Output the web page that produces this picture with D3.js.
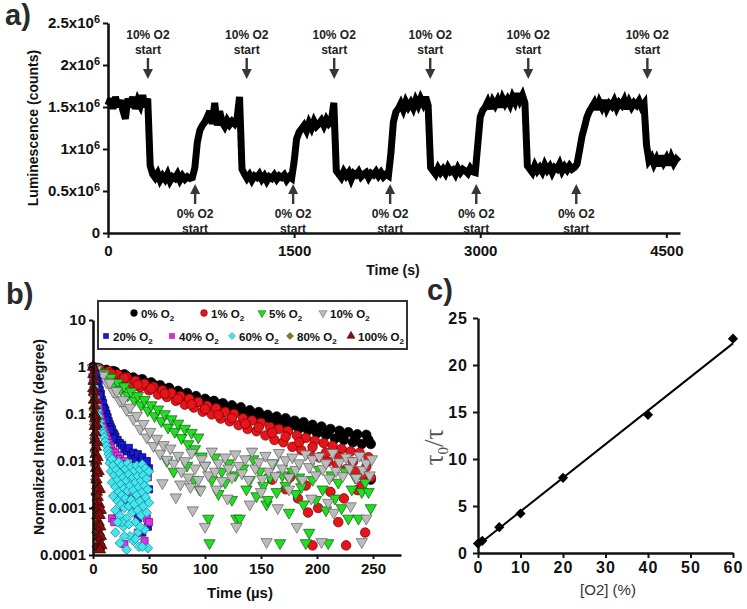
<!DOCTYPE html>
<html><head><meta charset="utf-8">
<script src="https://cdn.jsdelivr.net/npm/d3@7"></script>
<style>
body{margin:0;background:#fff;}
svg{display:block;font-family:"Liberation Sans",Arial,sans-serif;}
</style></head><body>
<svg id="chart" width="747" height="609"></svg>
<script>
// ---------------- Panel a data ----------------
const lumStep = 20; // seconds between samples
const lumValues = [ // luminescence, x10^6 counts
1.52,1.60,1.48,1.62,1.50,1.58,1.46,1.36,1.60,1.50,1.62,1.48,1.58,1.52,1.64,1.50,1.60,
0.80,
0.70,0.66,0.71,0.63,0.68,0.64,0.70,0.62,0.67,0.65,0.70,0.63,0.68,0.64,0.67,0.65,0.66,
0.78,1.08,1.22,1.28,
1.32,1.38,1.45,1.30,1.55,1.28,1.45,1.32,1.27,1.34,1.29,1.33,1.30,1.36,1.62,
0.76,
0.70,0.65,0.69,0.63,0.68,0.66,0.70,0.64,0.68,0.62,0.67,0.65,0.69,0.64,0.68,0.66,0.69,0.63,0.67,0.65,
0.85,1.12,1.20,1.24,
1.28,1.22,1.31,1.25,1.33,1.27,1.30,1.34,1.28,1.35,1.30,1.33,
1.55,
0.74,
0.70,0.66,0.73,0.68,0.72,0.64,0.71,0.69,0.73,0.67,0.70,0.72,0.66,0.71,0.69,0.73,0.68,0.72,0.67,0.70,0.68,
0.95,1.32,1.44,
1.48,1.54,1.47,1.56,1.50,1.55,1.49,1.58,1.52,1.60,1.54,1.62,
1.52,
0.78,
0.74,0.70,0.77,0.72,0.76,0.71,0.78,0.73,0.75,0.70,0.77,0.72,0.76,0.74,0.71,0.77,0.73,0.72,
1.05,1.38,1.46,
1.50,1.56,1.48,1.57,1.52,1.58,1.50,1.60,1.54,1.59,1.53,1.62,1.56,1.66,1.58,1.64,1.55,
0.80,
0.76,0.72,0.80,0.74,0.78,0.73,0.81,0.75,0.79,0.72,0.78,0.76,0.82,0.74,0.79,0.75,0.80,0.76,0.78,
0.82,0.98,1.15,1.26,1.38,1.45,
1.50,1.55,1.47,1.56,1.50,1.58,1.48,1.54,1.51,1.57,1.49,1.55,1.52,1.58,1.48,1.56,1.50,1.55,1.52,1.57,1.50,1.54,
1.05,0.86,
0.90,0.82,0.88,0.80,0.92,0.84,0.89,0.81,0.90,0.83,0.88,0.85
];
const lumTicksY = [0, 0.5, 1, 1.5, 2, 2.5];
const lumTicksX = [0, 1500, 3000, 4500];
const o2TenStarts = [322, 1118, 1823, 2597, 3387, 4347];
const o2ZeroStarts = [702, 1492, 2274, 2968, 3774];

// ---------------- Panel b data ----------------
const decayNames = ["0%", "1%", "5%", "10%", "20%", "40%", "60%", "80%", "100%"];
const decay0 = [[0,1.0],[4,0.96],[8,0.85],[12,0.87],[16,0.75],[20,0.79],[24,0.66],[28,0.70],[32,0.57],[36,0.60],[40,0.50],[44,0.55],[48,0.45],[52,0.47],[56,0.37],[60,0.41],[64,0.33],[68,0.36],[72,0.28],[76,0.31],[80,0.24],[84,0.28],[88,0.22],[92,0.24],[96,0.18],[100,0.21],[104,0.16],[108,0.19],[112,0.15],[116,0.17],[120,0.126],[124,0.153],[128,0.114],[132,0.139],[136,0.099],[140,0.12],[144,0.086],[148,0.11],[152,0.079],[156,0.096],[160,0.068],[164,0.088],[168,0.062],[172,0.081],[176,0.054],[180,0.072],[184,0.049],[188,0.067],[192,0.045],[196,0.059],[200,0.039],[204,0.054],[208,0.036],[212,0.048],[216,0.030],[220,0.044],[224,0.028],[228,0.041],[232,0.025],[236,0.037],[240,0.023],[244,0.036],[248,0.023],[248,0.004],
[6,0.92],[18,0.82],[30,0.64],[42,0.53],[54,0.42],[66,0.34],[78,0.27],[90,0.20],[102,0.19],[114,0.16],[126,0.13],[138,0.105],[150,0.093],[162,0.077],[174,0.066],[186,0.056],[198,0.048],[210,0.042],[222,0.035],[234,0.031],[246,0.028]];
const decay1 = [[2,0.96],[6,0.93],[10,0.76],[14,0.81],[18,0.63],[22,0.70],[26,0.55],[30,0.61],[34,0.45],[38,0.51],[42,0.37],[46,0.44],[50,0.32],[54,0.38],[58,0.26],[62,0.32],[66,0.23],[70,0.28],[74,0.19],[78,0.24],[82,0.158],[86,0.21],[90,0.137],[94,0.18],[98,0.112],[102,0.149],[106,0.098],[110,0.133],[114,0.080],[118,0.111],[122,0.070],[126,0.100],[130,0.058],[134,0.081],[138,0.048],[142,0.073],[146,0.043],[150,0.065],[154,0.035],[158,0.053],[162,0.028],[166,0.048],[170,0.025],[174,0.043],[178,0.020],[182,0.035],[186,0.017],[190,0.031],[194,0.014],[198,0.027],[202,0.012],[206,0.024],[210,0.0097],[214,0.021],[218,0.0083],[222,0.018],[226,0.0067],[230,0.016],[234,0.006],[238,0.015],[242,0.0046],[246,0.012],
[16,0.72],[28,0.58],[40,0.42],[52,0.35],[64,0.27],[76,0.21],[88,0.16],[100,0.128],[112,0.095],[124,0.082],[136,0.062],[148,0.052],[160,0.04],[172,0.033],[184,0.025],[196,0.02],[208,0.015],[220,0.012],[232,0.0095],[244,0.0075],
[160,0.004],[172,0.0025],[176,0.0045],[183,0.0016],[190,0.003],[192,0.0008],[196,0.00016],[201,0.001],[212,0.0022],[219,0.0005],[224,0.0016],[226,0.00016],[236,0.0024],[240,0.003],[243,0.0003],[248,0.0045]];
const decay5 = [[1,0.95],[4,0.91],[7,0.71],[10,0.74],[13,0.55],[16,0.60],[19,0.43],[22,0.47],[25,0.33],[28,0.39],[31,0.25],[34,0.30],[37,0.195],[40,0.245],[43,0.155],[46,0.20],[49,0.12],[52,0.155],[55,0.091],[58,0.126],[61,0.071],[64,0.10],[67,0.052],[70,0.078],[73,0.042],[76,0.063],[79,0.031],[82,0.049],[85,0.023],[88,0.040],[91,0.018],[94,0.032],[97,0.0126],
[66,0.01],[72,0.006],[84,0.008],[90,0.004],[95,0.0025],
[100,0.008],[103,0.0006],[104,0.00018],[106,0.004],[109,0.012],[112,0.002],[115,0.006],[118,0.0035],[121,0.009],[124,0.0015],[127,0.005],[128,0.0006],[131,0.0006],[134,0.007],[137,0.0025],[140,0.004],[143,0.011],[146,0.0018],[149,0.006],[152,0.003],[155,0.0012],[156,0.0015],[158,0.0045],[161,0.009],[164,0.0022],[167,0.00018],[169,0.005],[172,0.003],[175,0.0008],[178,0.006],[181,0.002],[184,0.0045],[186,0.0028],[188,0.0012],[190,0.00018],[193,0.0003],[196,0.004],[199,0.0015],[202,0.0065],[205,0.0025],[208,0.0009],[210,0.00018],[213,0.005],[216,0.0016],[219,0.0035],[222,0.001],[225,0.006],[228,0.0006],[231,0.0025],[234,0.0045],[237,0.0006],[240,0.0022],[243,0.0035],[246,0.0022],[248,0.001]];
const decay10 = [[0,0.95],[3,0.89],[6,0.68],[9,0.66],[12,0.48],[15,0.46],[18,0.30],[21,0.31],[24,0.19],[27,0.20],[30,0.123],[33,0.138],[36,0.079],[39,0.092],[42,0.049],[45,0.062],[48,0.032],[51,0.042],[54,0.021],[57,0.030],[60,0.0145],[63,0.022],[66,0.0107],[69,0.0186],[72,0.0089],
[76,0.013],[79,0.006],[82,0.01],[85,0.0045],[88,0.015],[91,0.007],[94,0.004],[97,0.011],[100,0.008],[103,0.005],[106,0.016],[109,0.006],[112,0.009],[115,0.0038],[118,0.012],[121,0.007],[124,0.0045],[127,0.014],[130,0.008],[133,0.0055],[136,0.011],[139,0.004],[142,0.016],[145,0.007],[148,0.0095],[151,0.0042],[154,0.013],[157,0.006],[160,0.009],[163,0.0048],[166,0.015],[169,0.007],[172,0.0105],[175,0.0045],[178,0.012],[181,0.0065],[184,0.009],[187,0.004],[190,0.014],[193,0.0075],[196,0.011],[199,0.005],[202,0.0125],[205,0.0068],[208,0.009],[211,0.0043],[214,0.015],[217,0.0062],[220,0.0095],[223,0.0048],[226,0.012],[229,0.007],[232,0.01],[235,0.0044],[238,0.013],[241,0.0065],[244,0.009],[247,0.005],[249,0.011],
[62,0.0034],[74,0.0017],[78,0.0032],[87,0.0028],[89,0.0009],[96,0.0024],[100,0.0004],[110,0.0025],[120,0.0016],[128,0.0004],[140,0.0012],[150,0.0022],[155,0.00019],[165,0.001],[175,0.0025],[182,0.0004],[195,0.0016],[204,0.00019],[210,0.0013],[215,0.0008],[230,0.0011],[240,0.00019],[244,0.0006]];
const decay20 = [[0,1.0],[1,0.85],[2,0.7],[3,0.6],[4,0.5],[5,0.42],[6,0.32],[7,0.27],[8,0.2],[9,0.17],[10,0.135],[11,0.12],[12,0.1],[13,0.085],[14,0.07],[15,0.06],[16,0.052],[17,0.047],[18,0.04],[19,0.037],[20,0.033],[22,0.028],[24,0.024],[26,0.022],[28,0.018],[30,0.016],[32,0.019],[34,0.013],[36,0.015],[38,0.011],[40,0.014],[42,0.009],[44,0.012],[46,0.008],[48,0.01],[50,0.007],
[3,0.45],[6,0.25],[9,0.13],[12,0.075],[15,0.045],[18,0.03],
[26,0.006],[30,0.004],[34,0.003],[38,0.002],[42,0.0045],[46,0.0015],[49,0.0004],[44,0.0003],[50,0.0025],[36,0.0009],[28,0.0012],[40,0.0006]];
const decay40 = [[0,0.6],[1,0.42],[2,0.3],[3,0.22],[4,0.17],[5,0.14],[6,0.1],[7,0.08],[8,0.065],[9,0.052],[10,0.045],[11,0.038],[12,0.033],[13,0.028],[14,0.024],[15,0.021],[16,0.019],[18,0.016],[20,0.015],[22,0.013],[24,0.011],[26,0.0095],[28,0.01],[30,0.0085],
[32,0.007],[35,0.005],[38,0.006],[41,0.004],[44,0.0055],[47,0.0065],[49,0.0045],[17,0.0006],[19,0.0005],[48,0.0006],[50,0.0005],[46,0.0002],[28,0.00017],[40,0.0003],[22,0.0008],[34,0.0012],[26,0.003],[30,0.002],[36,0.0009],[43,0.0015]];
const decay60 = [[0,0.7],[0,0.45],[0,0.3],[0.5,0.5],[0.5,0.25],[1,0.38],[1.5,0.28],[2,0.22],[3,0.16],[4,0.12],[5,0.09],[6,0.07],[7,0.055],[8,0.045],[9,0.038],[10,0.032],[11,0.026],[12,0.021],[13,0.017],[14,0.014],[15,0.012],[16,0.0105],[15,0.009],[17,0.011],
[16,0.006],[17,0.0035],[18,0.008],[18,0.0018],[19,0.005],[20,0.0028],[20,0.0009],[21,0.0065],[22,0.004],[22,0.0014],[23,0.0095],[23,0.0022],[24,0.0055],[24,0.0007],[25,0.0032],[25,0.0012],[26,0.008],[26,0.0019],[27,0.0045],[27,0.0004],[28,0.0026],[28,0.001],[29,0.0068],[29,0.0016],[30,0.0038],[30,0.0006],[31,0.009],[31,0.0023],[32,0.0052],[32,0.0011],[33,0.003],[33,0.00025],[34,0.0075],[34,0.0015],[35,0.0042],[35,0.0008],[36,0.0024],[36,0.0045],[37,0.0062],[37,0.0012],[38,0.0035],[38,0.0005],[39,0.008],[39,0.0019],[40,0.0048],[40,0.0009],[41,0.0028],[41,0.00015],[42,0.0066],[42,0.0014],[43,0.0038],[43,0.0007],[44,0.0085],[44,0.0022],[45,0.005],[45,0.0011],[46,0.003],[46,0.00035],[47,0.007],[47,0.0017],[48,0.0042],[48,0.0008],[49,0.0025],[49,0.00014],[50,0.006],[50,0.0013],
[20,0.0003],[24,0.00018],[28,0.00025],[30,0.00013],[36,0.0002],[40,0.0003],[44,0.00015],[38,0.00022],[42,0.0004],[26,0.0005],[32,0.00045],[22,0.0005]];
const decay80 = [[0,0.9],[0.5,0.25],[1,0.06],[1.5,0.016],[2,0.004],[2.5,0.001],[3,0.0003],[3.2,0.00015],[0.8,0.12],[1.2,0.03],[1.8,0.008],[2.3,0.002],[2.8,0.0006]];
const decay100 = [[0,1],[0.3,0.7],[0.6,0.5],[0.2,0.35],[1,0.3],[0.8,0.2],[2,0.2],[1.4,0.15],[1.1,0.1],[2.5,0.09],[1.8,0.08],[3,0.06],[1.5,0.055],[2.2,0.04],[1.9,0.028],[3.6,0.025],[2.6,0.02],[2.3,0.014],[4,0.012],[3,0.01],[2.7,0.007],[5,0.006],[3.4,0.0055],[3.1,0.004],[3.8,0.003],[4.5,0.0025],[6,0.0025],[3.5,0.0022],[4.2,0.0017],[3.9,0.0012],[5.5,0.0012],[4.6,0.0009],[7,0.0009],[4.3,0.0007],[6,0.0007],[5,0.0005],[4.7,0.0004],[6.5,0.0004],[5.4,0.0003],[5.1,0.00024],[7,0.00025],[5.8,0.00019],[5.5,0.00015],[7.5,0.00016],[6.2,0.00013]];
const decaySeries = [decay0, decay1, decay5, decay10, decay20, decay40, decay60, decay80, decay100];
const decayTicksY = [1e-4, 1e-3, 1e-2, 0.1, 1, 10];
const decayTickLabelsY = ["0.0001", "0.001", "0.01", "0.1", "1", "10"];
const decayTicksX = [0, 50, 100, 150, 200, 250];

// ---------------- Panel c data ----------------
const o2Percent = [0, 1, 5, 10, 20, 40, 60];
const tauRatio = [1.0, 1.3, 2.75, 4.2, 8.0, 14.7, 22.8];
const fitO2 = [0, 60];
const fitTau = [0.85, 22.3];
const sternTicksX = [0, 10, 20, 30, 40, 50, 60];
const sternTicksY = [0, 5, 10, 15, 20, 25];

// ---------------- Styles ----------------
const markerStyles = [
  {shape: "circle", fill: "#000000", stroke: "#000000", size: 72},
  {shape: "circle", fill: "#e8141c", stroke: "#6a0000", size: 72},
  {shape: "tdown", fill: "#22dd22", stroke: "#0b5a0b", size: 56},
  {shape: "tdown", fill: "#bcbcbc", stroke: "#5e5e5e", size: 56},
  {shape: "square", fill: "#1a1ad2", stroke: "#00005a", size: 52},
  {shape: "square", fill: "#e22ee2", stroke: "#6a146a", size: 52},
  {shape: "diamond", fill: "#42e6f0", stroke: "#1a7f88", size: 46},
  {shape: "diamond", fill: "#8a7d1a", stroke: "#3c3400", size: 46},
  {shape: "tup", fill: "#7e1010", stroke: "#3a0000", size: 56}
];

const svg = d3.select("#chart");
const BOLD = "bold";

function styleAxis(g, domainW, tickW, fontSize) {
  g.select(".domain").attr("stroke", "#111").attr("stroke-width", domainW);
  g.selectAll(".tick line").attr("stroke", "#111").attr("stroke-width", tickW);
  g.selectAll(".tick text").attr("fill", "#111").attr("font-size", fontSize)
    .attr("font-weight", BOLD).attr("font-family", "'Liberation Sans', Arial, sans-serif");
}

function symbolPath(shape, size) {
  if (shape === "circle") return d3.symbol(d3.symbolCircle, size)();
  if (shape === "square" || shape === "diamond") return d3.symbol(d3.symbolSquare, size)();
  return d3.symbol(d3.symbolTriangle, size)();
}
function symbolRot(shape) {
  if (shape === "tdown") return 180;
  if (shape === "diamond") return 45;
  return 0;
}

// ================= Panel a =================
const xA = d3.scaleLinear().domain([0, 4610]).range([108, 680]);
const yA = d3.scaleLinear().domain([0, 2.5]).range([233, 23]);

const gAy = svg.append("g").attr("transform", "translate(108,0)")
  .call(d3.axisLeft(yA).tickValues(lumTicksY).tickSize(5).tickSizeOuter(0).tickPadding(3));
styleAxis(gAy, 2.6, 2, 15);
gAy.selectAll(".tick text").each(function(d) {
  const t = d3.select(this);
  t.text(null);
  if (d === 0) { t.text("0"); return; }
  t.append("tspan").text(d + "x10");
  t.append("tspan").attr("dy", "-0.5em").attr("font-size", 11).text("6");
});

const gAx = svg.append("g").attr("transform", "translate(0,233)")
  .call(d3.axisBottom(xA).tickValues(lumTicksX).tickFormat(d3.format("d"))
    .tickSize(5).tickSizeOuter(0).tickPadding(7));
styleAxis(gAx, 2.6, 2, 15);

svg.append("path")
  .attr("d", d3.line().x((d, i) => xA(i * lumStep)).y(d => yA(d))(lumValues))
  .attr("fill", "none").attr("stroke", "#000").attr("stroke-width", 7)
  .attr("stroke-linejoin", "miter").attr("stroke-miterlimit", 3);

// annotations
const annColor = "#3a3636";
o2TenStarts.forEach(t => {
  const x = xA(t);
  svg.append("text").attr("x", x).attr("y", 39).attr("text-anchor", "middle")
    .attr("font-size", 12).attr("font-weight", BOLD).attr("fill", "#222").text("10% O2");
  svg.append("text").attr("x", x).attr("y", 54).attr("text-anchor", "middle")
    .attr("font-size", 12).attr("font-weight", BOLD).attr("fill", "#222").text("start");
  svg.append("line").attr("x1", x).attr("x2", x).attr("y1", 58).attr("y2", 71)
    .attr("stroke", annColor).attr("stroke-width", 2.4);
  svg.append("path").attr("d", `M${x - 5},69 L${x + 5},69 L${x},79 Z`).attr("fill", annColor);
});
o2ZeroStarts.forEach(t => {
  const x = xA(t);
  svg.append("line").attr("x1", x).attr("x2", x).attr("y1", 192).attr("y2", 204)
    .attr("stroke", annColor).attr("stroke-width", 2.4);
  svg.append("path").attr("d", `M${x - 5},194 L${x + 5},194 L${x},184 Z`).attr("fill", annColor);
  svg.append("text").attr("x", x).attr("y", 218).attr("text-anchor", "middle")
    .attr("font-size", 12).attr("font-weight", BOLD).attr("fill", "#222").text("0% O2");
  svg.append("text").attr("x", x).attr("y", 233).attr("text-anchor", "middle")
    .attr("font-size", 12).attr("font-weight", BOLD).attr("fill", "#222").text("start");
});

svg.append("text").attr("transform", "translate(38,128) rotate(-90)").attr("text-anchor", "middle")
  .attr("font-size", 14).attr("font-weight", BOLD).attr("fill", "#111").text("Luminescence (counts)");
svg.append("text").attr("x", 393).attr("y", 275).attr("text-anchor", "middle")
  .attr("font-size", 14).attr("font-weight", BOLD).attr("fill", "#111").text("Time (s)");
svg.append("text").attr("x", 5).attr("y", 25).attr("font-size", 29).attr("font-weight", BOLD)
  .attr("fill", "#2a2a2a").text("a)");

// ================= Panel b =================
const xB = d3.scaleLinear().domain([0, 275]).range([93, 401]);
const yB = d3.scaleLog().domain([1e-4, 10]).range([555, 320]);

const plotB = svg.append("g");
decaySeries.forEach((series, si) => {
  const st = markerStyles[si];
  const p = symbolPath(st.shape, st.size);
  const rot = symbolRot(st.shape);
  plotB.append("g").selectAll("path").data(series).join("path")
    .attr("d", p)
    .attr("transform", d => `translate(${xB(d[0])},${yB(d[1])}) rotate(${rot})`)
    .attr("fill", st.fill).attr("stroke", st.stroke).attr("stroke-width", 0.7);
});

const gBy = svg.append("g").attr("transform", "translate(93,0)")
  .call(d3.axisLeft(yB).tickValues(decayTicksY).tickFormat((d, i) => decayTickLabelsY[i])
    .tickSize(4).tickSizeOuter(0).tickPadding(3));
styleAxis(gBy, 2.6, 2, 15);
const gBx = svg.append("g").attr("transform", "translate(0,555)")
  .call(d3.axisBottom(xB).tickValues(decayTicksX).tickSize(4).tickSizeOuter(0).tickPadding(4));
styleAxis(gBx, 2.6, 2, 15);

// legend
svg.append("rect").attr("x", 98).attr("y", 301).attr("width", 309).attr("height", 48)
  .attr("fill", "#fff").attr("stroke", "#333").attr("stroke-width", 2);
const legendX = [134, 204, 262, 323, 106, 172, 232, 290, 351];
const legendRow = [0, 0, 0, 0, 1, 1, 1, 1, 1];
decayNames.forEach((name, i) => {
  const st = markerStyles[i];
  const ly = legendRow[i] === 0 ? 313 : 336;
  const lx = legendX[i];
  svg.append("path").attr("d", symbolPath(st.shape, st.size * 0.5))
    .attr("transform", `translate(${lx},${ly}) rotate(${symbolRot(st.shape)})`)
    .attr("fill", st.fill).attr("stroke", st.stroke).attr("stroke-width", 0.5);
  const t = svg.append("text").attr("x", lx + 7).attr("y", ly + 5)
    .attr("font-size", 11.5).attr("font-weight", BOLD).attr("fill", "#111");
  t.append("tspan").text(name + " O");
  t.append("tspan").attr("dy", 3).attr("font-size", 8).text("2");
});

svg.append("text").attr("transform", "translate(44,437) rotate(-90)").attr("text-anchor", "middle")
  .attr("font-size", 14).attr("font-weight", BOLD).attr("fill", "#111").text("Normalized Intensity (degree)");
svg.append("text").attr("x", 240).attr("y", 598).attr("text-anchor", "middle")
  .attr("font-size", 15).attr("font-weight", BOLD).attr("fill", "#111").text("Time (\u00b5s)");
svg.append("text").attr("x", 6).attr("y", 304).attr("font-size", 29).attr("font-weight", BOLD)
  .attr("fill", "#2a2a2a").text("b)");

// ================= Panel c =================
const xC = d3.scaleLinear().domain([0, 60]).range([478, 733]);
const yC = d3.scaleLinear().domain([0, 25]).range([553, 318]);

const gCy = svg.append("g").attr("transform", "translate(478,0)")
  .call(d3.axisLeft(yC).tickValues(sternTicksY).tickSize(5).tickSizeOuter(0).tickPadding(5));
styleAxis(gCy, 2.4, 2, 16);
const gCx = svg.append("g").attr("transform", "translate(0,553)")
  .call(d3.axisBottom(xC).tickValues(sternTicksX).tickSize(5).tickSizeOuter(0).tickPadding(4));
styleAxis(gCx, 2.4, 2, 16);
gCy.selectAll(".tick text").attr("letter-spacing", 1);
gCx.selectAll(".tick text").attr("letter-spacing", 1);

svg.append("path")
  .attr("d", d3.line().x((d, i) => xC(fitO2[i])).y(d => yC(d))(fitTau))
  .attr("fill", "none").attr("stroke", "#000").attr("stroke-width", 2);

svg.append("g").selectAll("path").data(o2Percent).join("path")
  .attr("d", d3.symbol(d3.symbolSquare, 52)())
  .attr("transform", (d, i) => `translate(${xC(d)},${yC(tauRatio[i])}) rotate(45)`)
  .attr("fill", "#000");

const tauLabel = svg.append("text").attr("transform", "translate(443,447) rotate(-90)")
  .attr("text-anchor", "middle").attr("font-family", "'Liberation Serif','DejaVu Serif',serif")
  .attr("fill", "#555").attr("font-size", 27);
tauLabel.append("tspan").text("\u03c4");
tauLabel.append("tspan").attr("dy", 5).attr("font-size", 15).text("0");
tauLabel.append("tspan").attr("dy", -5).text("/\u03c4");

svg.append("text").attr("x", 608).attr("y", 595).attr("text-anchor", "middle")
  .attr("font-size", 15).attr("fill", "#333").text("[O2] (%)");
svg.append("text").attr("x", 427).attr("y", 300).attr("font-size", 29).attr("font-weight", BOLD)
  .attr("fill", "#2a2a2a").text("c)");
</script>
</body></html>
